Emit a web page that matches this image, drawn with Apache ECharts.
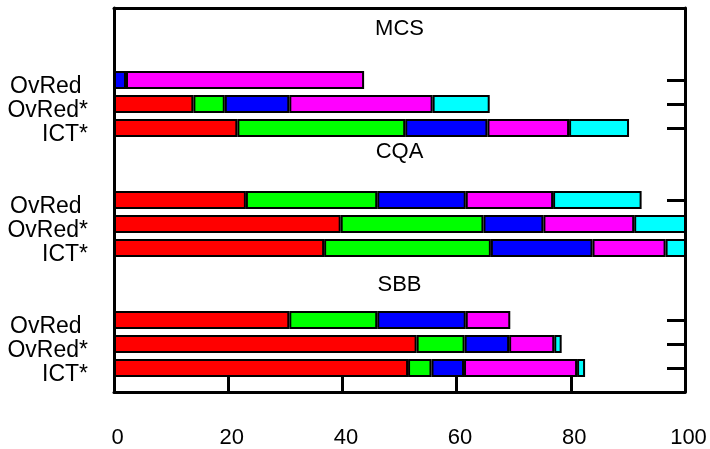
<!DOCTYPE html>
<html>
<head>
<meta charset="utf-8">
<script src="https://cdn.jsdelivr.net/npm/echarts@6/dist/echarts.min.js"></script>
<style>html,body{margin:0;padding:0;background:#fff}#c{width:710px;height:449px}</style>
</head>
<body>
<div id="c"></div>
<script>
const groups = ['MCS', 'CQA', 'SBB'];
const methods = ['OvRed ', 'OvRed*', 'ICT*'];
const xTicks = [0, 20, 40, 60, 80, 100];
// rows: MCS(OvRed, OvRed*, ICT*), CQA(...), SBB(...)
const red     = [null, 13.9, 21.6, 23.1, 39.7, 36.8, 30.7, 53.0, 51.5];
const green   = [null,  5.5, 29.4, 23.0, 25.0, 29.2, 15.4,  8.4,  4.1];
const blue    = [ 2.1, 11.3, 14.4, 15.5, 10.5, 17.8, 15.5,  7.8,  5.7];
const magenta = [41.7, 25.1, 14.3, 15.3, 15.9, 12.8,  7.8,  7.9, 19.8];
const cyan    = [null, 10.0, 10.5, 15.5, 10.0,  4.0, null,  1.3,  1.4];
const colors = ['#ff0000', '#00ff00', '#0000ff', '#ff00ff', '#00ffff'];
const seriesValues = [red, green, blue, magenta, cyan];

const FONT = 'Liberation Sans, Arial, Helvetica, sans-serif';
const nSlots = 17;
const slotKeys = [], slotLabels = [], rowSlot = [];
for (let i = 0; i < nSlots; i++) { slotKeys.push('s' + i); slotLabels.push(''); }
groups.forEach((g, gi) => {
  methods.forEach((m, mi) => {
    const s = 3 + 5 * gi + mi;
    slotLabels[s] = m;
    rowSlot.push(s);
  });
});
const isRow = i => rowSlot.indexOf(i) >= 0;

function slotData(vals) {
  const d = new Array(nSlots).fill('-');
  vals.forEach((v, r) => { d[rowSlot[r]] = (v == null ? '-' : v); });
  return d;
}

const chart = echarts.init(document.getElementById('c'), null, {renderer: 'canvas'});
const lineStyle = {color: '#000', width: 3};
chart.setOption({
  animation: false,
  grid: {left: 114, right: 25, top: 8, bottom: 57, containLabel: false},
  xAxis: [{
    type: 'value', min: 0, max: 100, interval: 20, position: 'bottom',
    axisLine: {show: true, lineStyle: lineStyle},
    axisTick: {show: true, inside: true, length: 15, lineStyle: {color: '#000', width: 3}},
    splitLine: {show: false},
    axisLabel: {show: true, margin: 35, color: '#000', fontSize: 22, fontFamily: FONT, padding: [0, 0, 0, 7],
      formatter: v => xTicks.indexOf(v) >= 0 ? String(v) : ''}
  }, {
    type: 'value', min: 0, max: 100, position: 'top',
    axisLine: {show: true, onZero: false, lineStyle: lineStyle},
    axisTick: {show: false}, axisLabel: {show: false}, splitLine: {show: false}
  }],
  yAxis: [{
    type: 'category', data: slotKeys, inverse: true, boundaryGap: false, position: 'left',
    axisLine: {show: true, onZero: false, lineStyle: lineStyle},
    axisTick: {show: false},
    splitLine: {show: false},
    axisLabel: {show: true, interval: 0, margin: 26, color: '#000', fontSize: 23, fontFamily: FONT,
      verticalAlign: 'top', lineHeight: 14,
      formatter: (v, i) => slotLabels[i]}
  }, {
    type: 'category', data: slotKeys, inverse: true, boundaryGap: false, position: 'right',
    axisLine: {show: true, onZero: false, lineStyle: lineStyle},
    axisTick: {show: true, inside: true, length: 18, interval: (i) => isRow(i), lineStyle: {color: '#000', width: 3}},
    axisLabel: {show: false}, splitLine: {show: false}
  }],
  series: seriesValues.map((vals, k) => ({
    type: 'bar', stack: 'all', xAxisIndex: 0, yAxisIndex: 0,
    barWidth: 18,
    itemStyle: {color: colors[k], borderColor: '#000', borderWidth: 2},
    data: slotData(vals)
  })),
  graphic: groups.map((g, gi) => ({
    type: 'text', x: 399.5, y: [29, 152, 284.5][gi], z: 10,
    style: {text: g, textAlign: 'center', textVerticalAlign: 'middle', font: '22px ' + FONT, fill: '#000'}
  }))
});
</script>
</body>
</html>
